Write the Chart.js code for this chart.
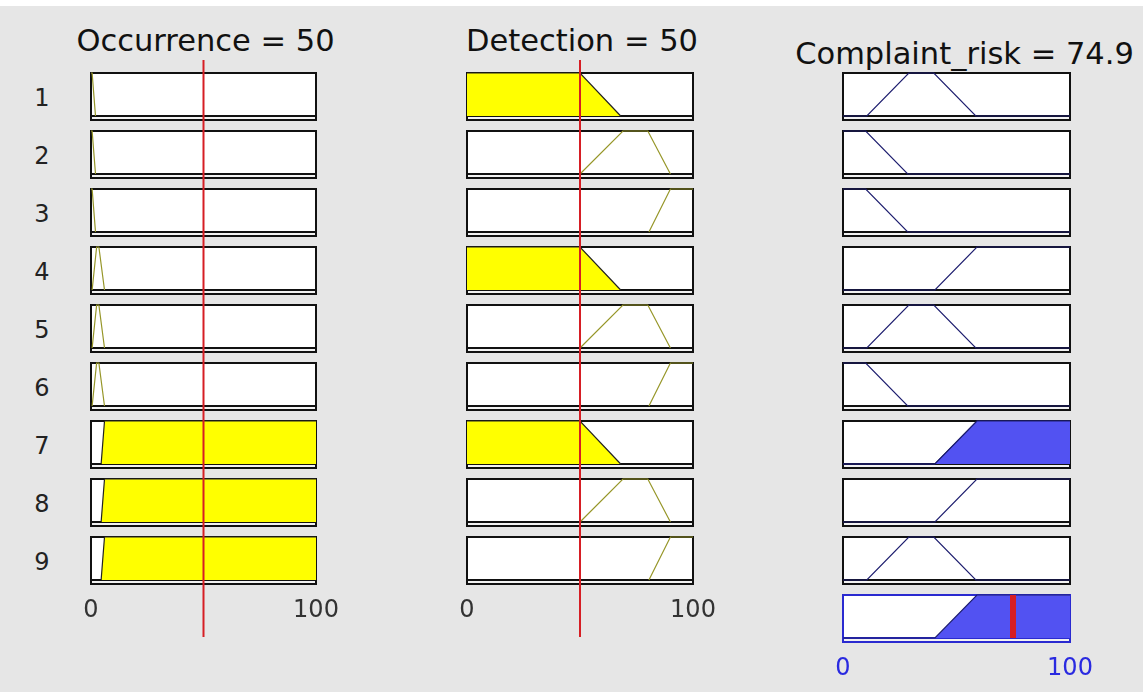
<!DOCTYPE html>
<html>
<head>
<meta charset="utf-8">
<script src="https://cdn.jsdelivr.net/npm/chart.js@4.4.0/dist/chart.umd.min.js"></script>
<style>
  body { margin: 0; background: #e6e6e6; }
  #page { position: relative; width: 1143px; height: 692px; overflow: hidden; background: #e6e6e6; font-family: "DejaVu Sans", sans-serif; }
  #topband { position: absolute; left: 0; top: 0; width: 1143px; height: 6px; background: #fff; }
  .title { position: absolute; font-size: 30.5px; line-height: 30px; color: #111; white-space: nowrap; transform: translateX(-50%); }
  .rowno { position: absolute; font-size: 24px; line-height: 24px; color: #222; transform: translateX(-50%); }
  canvas { position: absolute; }
</style>
</head>
<body>
<div id="page"><div id="topband"></div></div>
<script>
const inputNames = ['Occurrence', 'Detection'];
const inputValues = [50, 50];
const outputName = 'Complaint_risk';
const outputValue = 74.9;
const ruleNumbers = [1, 2, 3, 4, 5, 6, 7, 8, 9];
const axisTicks = [0, 100];

// rule table: which membership function each rule uses
const ruleOccurrence = ['low', 'low', 'low', 'medium', 'medium', 'medium', 'high', 'high', 'high'];
const ruleDetection = ['low', 'medium', 'high', 'low', 'medium', 'high', 'low', 'medium', 'high'];
const ruleRisk = ['medium', 'low', 'low', 'high', 'medium', 'low', 'high', 'high', 'medium'];

// membership functions (x = universe value, y = degree)
const occLowX = [0, 0.5, 2];
const occLowY = [1, 1, 0];
const occMediumX = [0.5, 2.5, 3.5, 6];
const occMediumY = [0, 1, 1, 0];
const occHighX = [4.5, 6, 100];
const occHighY = [0, 1, 1];

const detLowX = [0, 50, 68];
const detLowY = [1, 1, 0];
const detMediumX = [50, 69, 80, 90];
const detMediumY = [0, 1, 1, 0];
const detHighX = [80.5, 90, 100];
const detHighY = [0, 1, 1];

const riskLowX = [0, 10, 28.5, 100];
const riskLowY = [1, 1, 0, 0];
const riskMediumX = [0, 10.5, 29, 40, 58.5, 100];
const riskMediumY = [0, 0, 1, 1, 0, 0];
const riskHighX = [0, 40.5, 59, 100];
const riskHighY = [0, 0, 1, 1];

// aggregated output
const aggX = [0, 40.5, 59, 100];
const aggY = [0, 0, 1, 1];

const occMF = { low: [occLowX, occLowY], medium: [occMediumX, occMediumY], high: [occHighX, occHighY] };
const detMF = { low: [detLowX, detLowY], medium: [detMediumX, detMediumY], high: [detHighX, detHighY] };
const riskMF = { low: [riskLowX, riskLowY], medium: [riskMediumX, riskMediumY], high: [riskHighX, riskHighY] };

// ---- layout ----
const colLeft = [91, 467, 843];
const colWidth = [225, 226, 227];
const rowTop = 73;
const rowPitch = 58;
const boxH = 43;
const side = 50;

const YELLOW = '#ffff00';
const OLIVE = 'rgb(150, 150, 40)';
const NAVY = '#1c1c6e';
const BLUE_FILL = 'rgb(82, 82, 242)';
const RED = 'rgb(214, 30, 36)';

const page = document.getElementById('page');

function toPoints(xs, ys, cap) {
    return xs.map((x, i) => ({ x: x, y: cap === undefined ? ys[i] : Math.min(ys[i], cap) }));
}

function degreeAt(xs, ys, v) {
    if (v < xs[0] || v > xs[xs.length - 1]) return 0;
    for (let i = 1; i < xs.length; i++) {
        if (v <= xs[i]) {
            const t = xs[i] === xs[i - 1] ? 1 : (v - xs[i - 1]) / (xs[i] - xs[i - 1]);
            return ys[i - 1] + t * (ys[i] - ys[i - 1]);
        }
    }
    return 0;
}

// white box + the thin strip under it, like the MATLAB rule viewer axes
const boxPlugin = {
    id: 'panelBox',
    beforeDatasetsDraw(chart, args, opts) {
        const a = chart.chartArea;
        const ctx = chart.ctx;
        ctx.save();
        ctx.fillStyle = '#ffffff';
        ctx.fillRect(a.left, a.top, a.width, a.height);
        ctx.fillStyle = '#f2f2f2';
        ctx.fillRect(a.left, a.bottom, a.width, 4);
        ctx.strokeStyle = opts.color || '#111';
        ctx.lineWidth = 2;
        ctx.strokeRect(a.left, a.top, a.width, a.height + 4);
        ctx.beginPath();
        ctx.moveTo(a.left, a.bottom);
        ctx.lineTo(a.right, a.bottom);
        ctx.stroke();
        ctx.restore();
    }
};

function addCanvas(left, top, width, height) {
    const c = document.createElement('canvas');
    c.width = width;
    c.height = height;
    c.style.left = left + 'px';
    c.style.top = top + 'px';
    c.style.width = width + 'px';
    c.style.height = height + 'px';
    page.appendChild(c);
    return c;
}

function panelChart(col, top, datasets, opts) {
    const withTicks = !!opts.ticks;
    const height = withTicks ? 1 + boxH + 40 : 1 + boxH + 5;
    const canvas = addCanvas(colLeft[col] - side, top - 1, colWidth[col] + 2 * side, height);
    const xScale = {
        type: 'linear', min: 0, max: 100,
        display: withTicks,
        grid: { display: false, drawTicks: false },
        border: { display: false },
        ticks: {
            maxRotation: 0, padding: 16,
            color: opts.tickColor || '#333',
            font: { family: 'DejaVu Sans', size: 24 }
        }
    };
    if (withTicks) {
        xScale.afterBuildTicks = s => { s.ticks = axisTicks.map(v => ({ value: v })); };
        xScale.afterFit = s => { s.height = 40; };
    }
    return new Chart(canvas.getContext('2d'), {
        type: 'line',
        data: { datasets: datasets },
        options: {
            responsive: false,
            animation: false,
            devicePixelRatio: 1,
            events: [],
            layout: { padding: { left: side, right: side, top: 1, bottom: withTicks ? 0 : 5 } },
            elements: { point: { radius: 0 }, line: { tension: 0 } },
            plugins: {
                legend: { display: false },
                tooltip: { enabled: false },
                panelBox: { color: opts.border || '#111' }
            },
            scales: {
                x: xScale,
                y: { min: 0, max: 1, display: false }
            }
        },
        plugins: [boxPlugin]
    });
}

// titles
function addTitle(text, cx, top) {
    const d = document.createElement('div');
    d.className = 'title';
    d.textContent = text;
    d.style.left = cx + 'px';
    d.style.top = top + 'px';
    page.appendChild(d);
}
addTitle(inputNames[0] + ' = ' + inputValues[0], colLeft[0] + colWidth[0] / 2 + 2, 26);
addTitle(inputNames[1] + ' = ' + inputValues[1], colLeft[1] + colWidth[1] / 2 + 2, 26);
addTitle(outputName + ' = ' + outputValue, colLeft[2] + colWidth[2] / 2 + 8, 39);

// rule rows
ruleNumbers.forEach((n, i) => {
    const top = rowTop + i * rowPitch;
    const last = i === ruleNumbers.length - 1;

    const lab = document.createElement('div');
    lab.className = 'rowno';
    lab.textContent = n;
    lab.style.left = '42px';
    lab.style.top = (top + 13) + 'px';
    page.appendChild(lab);

    const [ox, oy] = occMF[ruleOccurrence[i]];
    const [dx, dy] = detMF[ruleDetection[i]];
    const [rx, ry] = riskMF[ruleRisk[i]];
    const muOcc = degreeAt(ox, oy, inputValues[0]);
    const muDet = degreeAt(dx, dy, inputValues[1]);
    const strength = Math.min(muOcc, muDet);

    panelChart(0, top, [{
        data: toPoints(ox, oy),
        borderColor: muOcc > 0 ? '#222' : OLIVE,
        borderWidth: 1.2,
        backgroundColor: YELLOW,
        fill: muOcc > 0 ? 'origin' : false,
        clip: false
    }], { ticks: last });

    panelChart(1, top, [{
        data: toPoints(dx, dy),
        borderColor: muDet > 0 ? '#222' : OLIVE,
        borderWidth: 1.2,
        backgroundColor: YELLOW,
        fill: muDet > 0 ? 'origin' : false,
        clip: false
    }], { ticks: last });

    const riskSets = [{
        data: toPoints(rx, ry),
        borderColor: NAVY,
        borderWidth: 1.2,
        fill: false,
        clip: false
    }];
    if (strength > 0) {
        riskSets.unshift({
            data: toPoints(rx, ry, strength),
            borderColor: NAVY,
            borderWidth: 1.2,
            backgroundColor: BLUE_FILL,
            fill: 'origin',
            clip: false
        });
    }
    panelChart(2, top, riskSets, {});
});

// aggregated output row with the defuzzified value
panelChart(2, rowTop + ruleNumbers.length * rowPitch, [
    {
        data: [{ x: outputValue, y: 0 }, { x: outputValue, y: 1 }],
        borderColor: RED,
        borderWidth: 6,
        fill: false,
        clip: false
    },
    {
        data: toPoints(aggX, aggY),
        borderColor: NAVY,
        borderWidth: 1.2,
        backgroundColor: BLUE_FILL,
        fill: 'origin',
        clip: false
    }
], { ticks: true, border: '#2a2ad0', tickColor: '#2a2ae0' });

// input value lines across each input column
[0, 1].forEach(col => {
    const canvas = addCanvas(colLeft[col] - side, 60, colWidth[col] + 2 * side, 577);
    new Chart(canvas.getContext('2d'), {
        type: 'line',
        data: {
            datasets: [{
                data: [{ x: inputValues[col], y: 0 }, { x: inputValues[col], y: 1 }],
                borderColor: RED,
                borderWidth: 2,
                pointRadius: 0,
                clip: false
            }]
        },
        options: {
            responsive: false,
            animation: false,
            devicePixelRatio: 1,
            events: [],
            layout: { padding: { left: side, right: side, top: 0, bottom: 0 } },
            plugins: { legend: { display: false }, tooltip: { enabled: false } },
            scales: {
                x: { type: 'linear', min: 0, max: 100, display: false },
                y: { min: 0, max: 1, display: false }
            }
        }
    });
});
</script>
</body>
</html>
